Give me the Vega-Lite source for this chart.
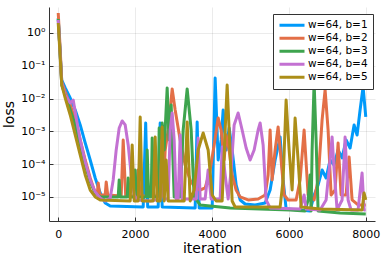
{
 "$schema": "https://vega.github.io/schema/vega-lite/v6.json",
 "width": 326, "height": 214,
 "autosize": {"type": "none"},
 "padding": {"left": 49, "top": 7, "right": 7, "bottom": 34},
 "background": "white",
 "config": {"view": {"stroke": null}, "font": "DejaVu Sans",
  "axis": {"labelFont": "DejaVu Sans", "titleFont": "DejaVu Sans", "labelFontSize": 11, "titleFontSize": 14, "titleFontWeight": "normal", "labelColor": "#000", "titleColor": "#000", "domainColor": "#333", "domainWidth": 1, "tickColor": "#333", "tickSize": -4, "tickWidth": 1, "gridColor": "#000", "gridOpacity": 0.1, "gridWidth": 0.8}},
 "data": {"values": [
{"b":1,"i":0,"v":2.87},{"b":1,"i":52,"v":0.213},{"b":1,"i":91,"v":0.0369},{"b":1,"i":182,"v":0.0211},{"b":1,"i":312,"v":0.0104},{"b":1,"i":442,"v":0.00449},{"b":1,"i":572,"v":0.00157},{"b":1,"i":702,"v":0.000443},{"b":1,"i":832,"v":0.000134},{"b":1,"i":962,"v":3.79e-5},{"b":1,"i":1092,"v":1.32e-5},{"b":1,"i":1222,"v":6.56e-6},{"b":1,"i":1352,"v":5.32e-6},{"b":1,"i":2210,"v":4.95e-6},{"b":1,"i":2275,"v":0.0018},{"b":1,"i":2327,"v":4.95e-6},{"b":1,"i":2600,"v":4.95e-6},{"b":1,"i":2652,"v":0.0018},{"b":1,"i":2704,"v":4.95e-6},{"b":1,"i":3562,"v":4.62e-6},{"b":1,"i":3614,"v":0.00194},{"b":1,"i":3666,"v":4.62e-6},{"b":1,"i":4004,"v":4.62e-6},{"b":1,"i":4082,"v":0.0425},{"b":1,"i":4160,"v":0.000134},{"b":1,"i":4238,"v":0.000547},{"b":1,"i":4290,"v":0.00449},{"b":1,"i":4368,"v":0.000271},{"b":1,"i":4446,"v":0.00127},{"b":1,"i":4524,"v":0.000271},{"b":1,"i":4628,"v":2.32e-5},{"b":1,"i":4732,"v":8.1e-6},{"b":1,"i":4862,"v":6.12e-6},{"b":1,"i":5122,"v":5.7e-6},{"b":1,"i":5382,"v":6.56e-6},{"b":1,"i":5512,"v":1.63e-5},{"b":1,"i":5642,"v":0.000134},{"b":1,"i":5772,"v":0.000675},{"b":1,"i":5850,"v":3.3e-5},{"b":1,"i":5928,"v":4.31e-6},{"b":1,"i":6292,"v":4.02e-6},{"b":1,"i":6552,"v":3.74e-6},{"b":1,"i":6656,"v":1.15e-5},{"b":1,"i":6760,"v":2.32e-5},{"b":1,"i":6864,"v":6.66e-5},{"b":1,"i":6968,"v":3.79e-5},{"b":1,"i":7072,"v":0.000134},{"b":1,"i":7176,"v":9.46e-5},{"b":1,"i":7280,"v":0.000271},{"b":1,"i":7384,"v":0.000155},{"b":1,"i":7488,"v":0.000547},{"b":1,"i":7592,"v":0.000312},{"b":1,"i":7696,"v":0.00157},{"b":1,"i":7774,"v":0.000776},{"b":1,"i":7852,"v":0.00449},{"b":1,"i":7930,"v":0.0226},{"b":1,"i":8000,"v":0.00275},
{"b":2,"i":0,"v":4.07},{"b":2,"i":52,"v":0.303},{"b":2,"i":91,"v":0.0321},{"b":2,"i":182,"v":0.0159},{"b":2,"i":312,"v":0.00638},{"b":2,"i":442,"v":0.00223},{"b":2,"i":572,"v":0.000547},{"b":2,"i":702,"v":0.000134},{"b":2,"i":832,"v":3.79e-5},{"b":2,"i":936,"v":1.63e-5},{"b":2,"i":1014,"v":1.15e-5},{"b":2,"i":1040,"v":2.67e-5},{"b":2,"i":1079,"v":1.15e-5},{"b":2,"i":1222,"v":1.15e-5},{"b":2,"i":1248,"v":2.86e-5},{"b":2,"i":1287,"v":1.15e-5},{"b":2,"i":1638,"v":1.07e-5},{"b":2,"i":1690,"v":0.000547},{"b":2,"i":1755,"v":1.07e-5},{"b":2,"i":2028,"v":1.07e-5},{"b":2,"i":2080,"v":6.66e-5},{"b":2,"i":2132,"v":1.07e-5},{"b":2,"i":2392,"v":1.07e-5},{"b":2,"i":2444,"v":4.69e-5},{"b":2,"i":2496,"v":1.07e-5},{"b":2,"i":2730,"v":1.07e-5},{"b":2,"i":2782,"v":0.000271},{"b":2,"i":2860,"v":0.0011},{"b":2,"i":2912,"v":0.00449},{"b":2,"i":2964,"v":0.0196},{"b":2,"i":3042,"v":0.00449},{"b":2,"i":3172,"v":0.000547},{"b":2,"i":3302,"v":9.46e-5},{"b":2,"i":3432,"v":3.3e-5},{"b":2,"i":3562,"v":1.88e-5},{"b":2,"i":3692,"v":1.63e-5},{"b":2,"i":3822,"v":1.88e-5},{"b":2,"i":3952,"v":6.66e-5},{"b":2,"i":4056,"v":0.000385},{"b":2,"i":4160,"v":0.00256},{"b":2,"i":4238,"v":0.0011},{"b":2,"i":4316,"v":0.000134},{"b":2,"i":4368,"v":0.000776},{"b":2,"i":4446,"v":0.000271},{"b":2,"i":4524,"v":4.69e-5},{"b":2,"i":4628,"v":1.63e-5},{"b":2,"i":4732,"v":1e-5},{"b":2,"i":4940,"v":8.1e-6},{"b":2,"i":5200,"v":8.69e-6},{"b":2,"i":5382,"v":1.15e-5},{"b":2,"i":5460,"v":4.69e-5},{"b":2,"i":5512,"v":0.0011},{"b":2,"i":5564,"v":3.3e-5},{"b":2,"i":5642,"v":0.000271},{"b":2,"i":5720,"v":0.00136},{"b":2,"i":5798,"v":0.000134},{"b":2,"i":5876,"v":1.15e-5},{"b":2,"i":5980,"v":8.1e-6},{"b":2,"i":6188,"v":8.1e-6},{"b":2,"i":6292,"v":3.3e-5},{"b":2,"i":6396,"v":0.0011},{"b":2,"i":6500,"v":1.15e-5},{"b":2,"i":6656,"v":8.1e-6},{"b":2,"i":6760,"v":3.3e-5},{"b":2,"i":6864,"v":0.00223},{"b":2,"i":6942,"v":0.0183},{"b":2,"i":7020,"v":0.0011},{"b":2,"i":7098,"v":1.15e-5},{"b":2,"i":7202,"v":1.63e-5},{"b":2,"i":7280,"v":0.000443},{"b":2,"i":7358,"v":1.15e-5},{"b":2,"i":7488,"v":1.15e-5},{"b":2,"i":7566,"v":0.000166},{"b":2,"i":7644,"v":8.1e-6},{"b":2,"i":7800,"v":5.7e-6},{"b":2,"i":8000,"v":5.7e-6},
{"b":3,"i":0,"v":2.67},{"b":3,"i":52,"v":0.213},{"b":3,"i":91,"v":0.026},{"b":3,"i":182,"v":0.0129},{"b":3,"i":312,"v":0.00449},{"b":3,"i":442,"v":0.00157},{"b":3,"i":572,"v":0.000385},{"b":3,"i":702,"v":9.46e-5},{"b":3,"i":832,"v":2.86e-5},{"b":3,"i":962,"v":1.32e-5},{"b":3,"i":1092,"v":1e-5},{"b":3,"i":1560,"v":1e-5},{"b":3,"i":1586,"v":3.3e-5},{"b":3,"i":1612,"v":1e-5},{"b":3,"i":1794,"v":1e-5},{"b":3,"i":1820,"v":3.79e-5},{"b":3,"i":1846,"v":1e-5},{"b":3,"i":1976,"v":1e-5},{"b":3,"i":2002,"v":6.66e-5},{"b":3,"i":2028,"v":1e-5},{"b":3,"i":2288,"v":1e-5},{"b":3,"i":2314,"v":0.000271},{"b":3,"i":2353,"v":1e-5},{"b":3,"i":2418,"v":1e-5},{"b":3,"i":2444,"v":0.000629},{"b":3,"i":2483,"v":1e-5},{"b":3,"i":2600,"v":1e-5},{"b":3,"i":2626,"v":0.00127},{"b":3,"i":2665,"v":1e-5},{"b":3,"i":2704,"v":0.0018},{"b":3,"i":2756,"v":0.000271},{"b":3,"i":2834,"v":0.0211},{"b":3,"i":2886,"v":0.000547},{"b":3,"i":2938,"v":0.00638},{"b":3,"i":3016,"v":1e-5},{"b":3,"i":3172,"v":1e-5},{"b":3,"i":3250,"v":0.0011},{"b":3,"i":3354,"v":0.0196},{"b":3,"i":3458,"v":0.0011},{"b":3,"i":3536,"v":1e-5},{"b":3,"i":3692,"v":5.7e-6},{"b":3,"i":4472,"v":4.62e-6},{"b":3,"i":5252,"v":4.31e-6},{"b":3,"i":6032,"v":4.02e-6},{"b":3,"i":6422,"v":3.74e-6},{"b":3,"i":6500,"v":8.1e-6},{"b":3,"i":6552,"v":4.69e-5},{"b":3,"i":6578,"v":3.74e-6},{"b":3,"i":6604,"v":0.000271},{"b":3,"i":6656,"v":0.0321},{"b":3,"i":6708,"v":0.000547},{"b":3,"i":6760,"v":3.74e-6},{"b":3,"i":7332,"v":3.25e-6},{"b":3,"i":8000,"v":3.03e-6},
{"b":4,"i":0,"v":2.49},{"b":4,"i":52,"v":0.213},{"b":4,"i":91,"v":0.0299},{"b":4,"i":182,"v":0.0129},{"b":4,"i":312,"v":0.00734},{"b":4,"i":390,"v":0.00906},{"b":4,"i":468,"v":0.00256},{"b":4,"i":572,"v":0.000547},{"b":4,"i":702,"v":0.000117},{"b":4,"i":832,"v":3.3e-5},{"b":4,"i":962,"v":1.42e-5},{"b":4,"i":1092,"v":9.33e-6},{"b":4,"i":1222,"v":7.55e-6},{"b":4,"i":1352,"v":9.33e-6},{"b":4,"i":1430,"v":3.3e-5},{"b":4,"i":1508,"v":0.000271},{"b":4,"i":1586,"v":0.00127},{"b":4,"i":1664,"v":0.00208},{"b":4,"i":1742,"v":0.00157},{"b":4,"i":1820,"v":0.000385},{"b":4,"i":1898,"v":4.69e-5},{"b":4,"i":1976,"v":1.15e-5},{"b":4,"i":2054,"v":8.1e-6},{"b":4,"i":2392,"v":7.55e-6},{"b":4,"i":2652,"v":8.69e-6},{"b":4,"i":2704,"v":0.000547},{"b":4,"i":2756,"v":8.69e-6},{"b":4,"i":2860,"v":8.69e-6},{"b":4,"i":2912,"v":0.0011},{"b":4,"i":2964,"v":0.00364},{"b":4,"i":3016,"v":0.000547},{"b":4,"i":3068,"v":8.69e-6},{"b":4,"i":3120,"v":8.69e-6},{"b":4,"i":3172,"v":0.000776},{"b":4,"i":3224,"v":8.69e-6},{"b":4,"i":3588,"v":8.69e-6},{"b":4,"i":3640,"v":0.000629},{"b":4,"i":3692,"v":8.69e-6},{"b":4,"i":3822,"v":8.69e-6},{"b":4,"i":3900,"v":6.66e-5},{"b":4,"i":3978,"v":8.69e-6},{"b":4,"i":4212,"v":8.69e-6},{"b":4,"i":4264,"v":0.000334},{"b":4,"i":4342,"v":4.69e-5},{"b":4,"i":4420,"v":8.69e-6},{"b":4,"i":4498,"v":6.66e-5},{"b":4,"i":4576,"v":0.00157},{"b":4,"i":4680,"v":0.00364},{"b":4,"i":4784,"v":0.0011},{"b":4,"i":4888,"v":0.000312},{"b":4,"i":4992,"v":0.000134},{"b":4,"i":5096,"v":0.000271},{"b":4,"i":5200,"v":0.0011},{"b":4,"i":5252,"v":0.0018},{"b":4,"i":5330,"v":0.000385},{"b":4,"i":5408,"v":8.1e-6},{"b":4,"i":5512,"v":4.62e-6},{"b":4,"i":6292,"v":4.31e-6},{"b":4,"i":6396,"v":1.15e-5},{"b":4,"i":6448,"v":4.31e-6},{"b":4,"i":6812,"v":4.02e-6},{"b":4,"i":6968,"v":8.1e-6},{"b":4,"i":7072,"v":0.000134},{"b":4,"i":7124,"v":0.000675},{"b":4,"i":7176,"v":6.66e-5},{"b":4,"i":7254,"v":4.02e-6},{"b":4,"i":7384,"v":8.1e-6},{"b":4,"i":7462,"v":0.000675},{"b":4,"i":7540,"v":8.1e-6},{"b":4,"i":7618,"v":4.02e-6},{"b":4,"i":7800,"v":4.02e-6},{"b":4,"i":7904,"v":5.39e-5},{"b":4,"i":7956,"v":4.02e-6},{"b":4,"i":8000,"v":4.02e-6},
{"b":5,"i":0,"v":2.02},{"b":5,"i":52,"v":0.173},{"b":5,"i":91,"v":0.026},{"b":5,"i":182,"v":0.0104},{"b":5,"i":312,"v":0.00316},{"b":5,"i":442,"v":0.000776},{"b":5,"i":572,"v":0.000191},{"b":5,"i":702,"v":4.69e-5},{"b":5,"i":832,"v":1.63e-5},{"b":5,"i":962,"v":1e-5},{"b":5,"i":1092,"v":8.1e-6},{"b":5,"i":1872,"v":7.55e-6},{"b":5,"i":1924,"v":0.000385},{"b":5,"i":1976,"v":7.55e-6},{"b":5,"i":2080,"v":7.55e-6},{"b":5,"i":2132,"v":0.00275},{"b":5,"i":2184,"v":7.55e-6},{"b":5,"i":2470,"v":7.55e-6},{"b":5,"i":2522,"v":0.000675},{"b":5,"i":2574,"v":7.55e-6},{"b":5,"i":2652,"v":7.55e-6},{"b":5,"i":2704,"v":0.00136},{"b":5,"i":2756,"v":7.55e-6},{"b":5,"i":2808,"v":0.000134},{"b":5,"i":2860,"v":7.55e-6},{"b":5,"i":3276,"v":7.55e-6},{"b":5,"i":3354,"v":0.00194},{"b":5,"i":3432,"v":7.55e-6},{"b":5,"i":3536,"v":1.63e-5},{"b":5,"i":3640,"v":0.000271},{"b":5,"i":3770,"v":0.000894},{"b":5,"i":3900,"v":0.000271},{"b":5,"i":4004,"v":1.15e-5},{"b":5,"i":4108,"v":7.55e-6},{"b":5,"i":4264,"v":7.55e-6},{"b":5,"i":4342,"v":0.0011},{"b":5,"i":4394,"v":0.026},{"b":5,"i":4446,"v":0.0011},{"b":5,"i":4524,"v":7.55e-6},{"b":5,"i":4602,"v":4.95e-6},{"b":5,"i":5772,"v":4.95e-6},{"b":5,"i":5850,"v":3.3e-5},{"b":5,"i":5928,"v":0.00906},{"b":5,"i":6006,"v":0.000271},{"b":5,"i":6084,"v":1.63e-5},{"b":5,"i":6162,"v":0.00256},{"b":5,"i":6240,"v":0.000134},{"b":5,"i":6318,"v":4.95e-6},{"b":5,"i":6812,"v":4.31e-6},{"b":5,"i":7904,"v":4.02e-6},{"b":5,"i":7956,"v":1.32e-5},{"b":5,"i":8000,"v":8.1e-6}
 ]},
 "mark": {"type": "line", "strokeWidth": 3, "clip": true, "strokeJoin": "round"},
 "encoding": {
  "x": {"field": "i", "type": "quantitative",
   "scale": {"domain": [-240, 8240], "nice": false, "zero": false},
   "axis": {"values": [0, 2000, 4000, 6000, 8000], "format": "d", "title": "iteration", "labelPadding": 11, "titleBaseline": "alphabetic", "titleY": 31}},
  "y": {"field": "v", "type": "quantitative",
   "scale": {"type": "log", "domain": [1.85e-6, 6.2], "nice": false},
   "axis": {"values": [1e-5, 1e-4, 1e-3, 1e-2, 1e-1, 1], "labelExpr": "['10⁰','10⁻¹','10⁻²','10⁻³','10⁻⁴','10⁻⁵'][round(-log(datum.value)/LN10)]", "title": "loss", "labelPadding": 8, "titleBaseline": "alphabetic", "titleX": -36, "titleAngle": -90}},
  "color": {"field": "b", "type": "nominal",
   "scale": {"domain": [1, 2, 3, 4, 5], "range": ["#009AFA", "#E36F47", "#3EA44E", "#C371D2", "#AC8E18"]},
   "legend": {"title": null, "orient": "none", "legendX": 224, "legendY": 7, "labelExpr": "'w=64, b=' + datum.label", "symbolType": "stroke", "symbolSize": 625, "symbolStrokeWidth": 3, "clipHeight": 12.4, "rowPadding": 0, "labelFontSize": 10.5, "labelFont": "DejaVu Sans", "labelColor": "#000", "labelOffset": 2, "padding": 5, "strokeColor": "#333", "fillColor": "white", "cornerRadius": 0}}
 }
}
